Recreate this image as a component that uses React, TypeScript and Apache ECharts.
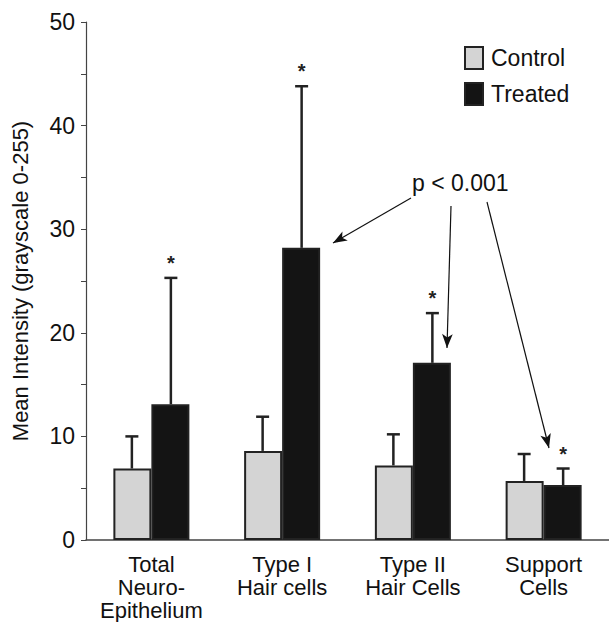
import React, { useEffect, useRef } from "react";
import * as echarts from "echarts";

const categories = ["Total\nNeuro-\nEpithelium", "Type I\nHair cells", "Type II\nHair Cells", "Support\nCells"];
const controlMean = [6.9, 8.6, 7.2, 5.7];
const controlUpper = [10.0, 11.9, 10.2, 8.3];
const treatedMean = [13.1, 28.2, 17.1, 5.3];
const treatedUpper = [25.3, 43.8, 21.9, 6.9];
const significant = [true, true, true, true];
const yTicks = [0, 10, 20, 30, 40, 50];

const FONT = "'Liberation Sans', Arial, Helvetica, sans-serif";
const HALF = 19.5;

function errorSeries(name: string, means: number[], uppers: number[], offset: number, star: boolean) {
  return {
    type: "custom",
    name: name + "-err",
    silent: true,
    z: 5,
    data: means.map((m, i) => [i, m, uppers[i], star && significant[i] ? 1 : 0]),
    renderItem: (params: any, api: any) => {
      const i = api.value(0);
      const base = api.coord([i, api.value(1)]);
      const top = api.coord([i, api.value(2)]);
      const x = base[0] + offset;
      const children: any[] = [
        { type: "line", shape: { x1: x, y1: base[1], x2: x, y2: top[1] }, style: { stroke: "#222", lineWidth: 2.5 } },
        { type: "line", shape: { x1: x - 6.5, y1: top[1], x2: x + 6.5, y2: top[1] }, style: { stroke: "#222", lineWidth: 2.5 } },
      ];
      if (api.value(3)) {
        children.push({
          type: "text",
          style: { text: "*", x: x, y: top[1] - 5, fill: "#222", font: `bold 20px ${FONT}`, textAlign: "center", textVerticalAlign: "bottom" },
        });
      }
      return { type: "group", children };
    },
  };
}

export default function App() {
  const ref = useRef<HTMLDivElement>(null);
  useEffect(() => {
    if (!ref.current) return;
    const chart = echarts.init(ref.current, null, { renderer: "svg" });
    chart.setOption({
      animation: false,
      backgroundColor: "#fff",
      textStyle: { fontFamily: FONT },
      grid: { left: 86, right: -2, top: 22, bottom: 79, containLabel: false },
      legend: {
        orient: "vertical",
        left: 459,
        top: 41,
        icon: "rect",
        itemWidth: 18,
        itemHeight: 22,
        itemGap: 12,
        data: ["Control", "Treated"],
        textStyle: { fontSize: 23, color: "#111", fontFamily: FONT, padding: [0, 0, 0, 3] },
      },
      xAxis: {
        type: "category",
        data: categories,
        axisLine: { lineStyle: { color: "#444", width: 1.5 } },
        axisTick: { show: false },
        axisLabel: { fontSize: 22, color: "#111", lineHeight: 23, margin: 13, fontFamily: FONT, interval: 0 },
      },
      yAxis: {
        type: "value",
        min: 0,
        max: 50,
        interval: 5,
        name: "Mean Intensity (grayscale 0-255)",
        nameLocation: "middle",
        nameGap: 55,
        nameTextStyle: { fontSize: 22, color: "#111", fontFamily: FONT },
        axisLine: { show: true, lineStyle: { color: "#444", width: 1.2 } },
        axisTick: { show: true, length: 5, lineStyle: { color: "#444" } },
        splitLine: { show: false },
        axisLabel: {
          fontSize: 23,
          color: "#111",
          margin: 11,
          fontFamily: FONT,
          formatter: (v: number) => (yTicks.includes(v) ? String(v) : ""),
        },
      },
      graphic: [
        {
          type: "text",
          left: 412,
          top: 171,
          style: { text: "p < 0.001", font: `23px ${FONT}`, fill: "#111" },
        },
      ],
      series: [
        {
          type: "bar",
          name: "Control",
          data: controlMean,
          barWidth: 38,
          barGap: "0%",
          itemStyle: { color: "#d4d4d4", borderColor: "#222", borderWidth: 2 },
        },
        {
          type: "bar",
          name: "Treated",
          data: treatedMean,
          barWidth: 38,
          barGap: "0%",
          itemStyle: { color: "#141414", borderColor: "#222", borderWidth: 2 },
          markLine: {
            silent: true,
            symbol: ["none", "arrow"],
            symbolSize: [8, 14],
            label: { show: false },
            lineStyle: { color: "#111", width: 1.2, type: "solid" },
            data: [
              [{ x: 411, y: 198 }, { x: 333, y: 243 }],
              [{ x: 451, y: 206 }, { x: 447, y: 348 }],
              [{ x: 487, y: 202 }, { x: 549, y: 448 }],
            ],
          },
        },
        errorSeries("Control", controlMean, controlUpper, -HALF, false),
        errorSeries("Treated", treatedMean, treatedUpper, HALF, true),
      ],
    });
    return () => chart.dispose();
  }, []);
  return <div ref={ref} style={{ position: "fixed", left: 0, top: 0, width: 609, height: 622 }} />;
}
